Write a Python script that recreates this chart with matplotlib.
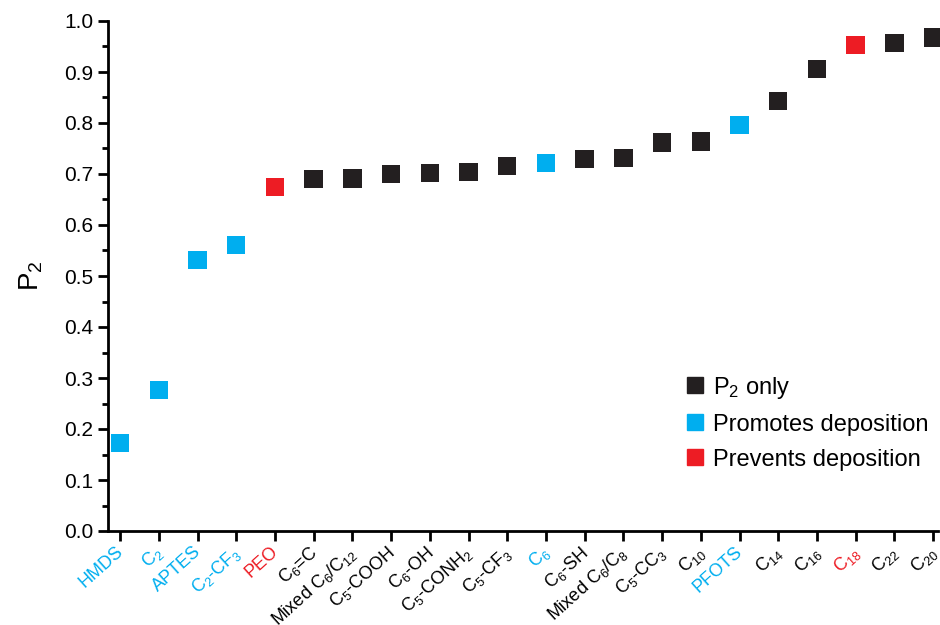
import numpy as np
import matplotlib
matplotlib.use('Agg')
import matplotlib.pyplot as plt
from matplotlib.lines import Line2D

plt.rcParams['font.family'] = ['Liberation Sans', 'DejaVu Sans']
plt.rcParams['mathtext.default'] = 'regular'

labels = ['HMDS', 'C$_2$', 'APTES', 'C$_2$-CF$_3$', 'PEO', 'C$_6$=C',
          'Mixed C$_6$/C$_{12}$', 'C$_5$-COOH', 'C$_6$-OH', 'C$_5$-CONH$_2$',
          'C$_5$-CF$_3$', 'C$_6$', 'C$_6$-SH', 'Mixed C$_6$/C$_8$', 'C$_5$-CC$_3$',
          'C$_{10}$', 'PFOTS', 'C$_{14}$', 'C$_{16}$', 'C$_{18}$', 'C$_{22}$', 'C$_{20}$']
p2 = [0.173, 0.276, 0.531, 0.561, 0.675, 0.690, 0.691, 0.700, 0.702, 0.704,
      0.716, 0.722, 0.729, 0.731, 0.762, 0.764, 0.796, 0.843, 0.906, 0.953,
      0.957, 0.968]
# 0 = P2 only, 1 = promotes deposition, 2 = prevents deposition
group = [1, 1, 1, 1, 2, 0, 0, 0, 0, 0, 0, 1, 0, 0, 0, 0, 1, 0, 0, 2, 0, 0]

colors = ['#231f20', '#00aeef', '#ed1c24']
names = ['P$_2$ only', 'Promotes deposition', 'Prevents deposition']

fig = plt.figure(figsize=(9.4, 6.25), dpi=100)
ax = fig.add_axes([0.115, 0.1504, 0.883, 0.816])

x = np.arange(len(labels))
ax.scatter(x, p2, marker='s', s=175, c=[colors[g] for g in group],
           edgecolors='none', zorder=5, clip_on=False)

ax.set_xlim(-0.31, 21.13)
ax.set_ylim(0, 1.0)
ax.set_yticks(np.arange(0, 1.01, 0.1))
ax.set_yticks(np.arange(0.05, 1.0, 0.1), minor=True)
ax.yaxis.set_major_formatter(matplotlib.ticker.FormatStrFormatter('%.1f'))
ax.set_xticks(x)
ax.set_xticklabels([])
# rotated category labels, nudged a little left of each tick
for i, (lab, g) in enumerate(zip(labels, group)):
    ax.annotate(lab, xy=(i, 0), xycoords=('data', 'axes fraction'),
                xytext=(-5, -12), textcoords='offset pixels',
                rotation=42, ha='right', va='top', rotation_mode='anchor',
                fontsize=13, color=colors[g] if g else 'black')

for s in ['top', 'right']:
    ax.spines[s].set_visible(False)
for s in ['left', 'bottom']:
    ax.spines[s].set_linewidth(2)
ax.tick_params(axis='both', which='major', direction='out', length=7, width=2)
ax.tick_params(axis='y', labelsize=15)
ax.tick_params(axis='y', which='minor', direction='out', length=4, width=2)

ax.set_ylabel('P$_2$', fontsize=20, labelpad=14)

handles = [Line2D([], [], marker='s', ls='none', color=c, markersize=12)
           for c in colors]
ax.legend(handles, names, loc='lower right', bbox_to_anchor=(1.0, 0.1),
          frameon=False, fontsize=17, handletextpad=0.05, labelspacing=0.55,
          borderaxespad=0, handlelength=1.4)

fig.savefig('out.png', dpi=100)
